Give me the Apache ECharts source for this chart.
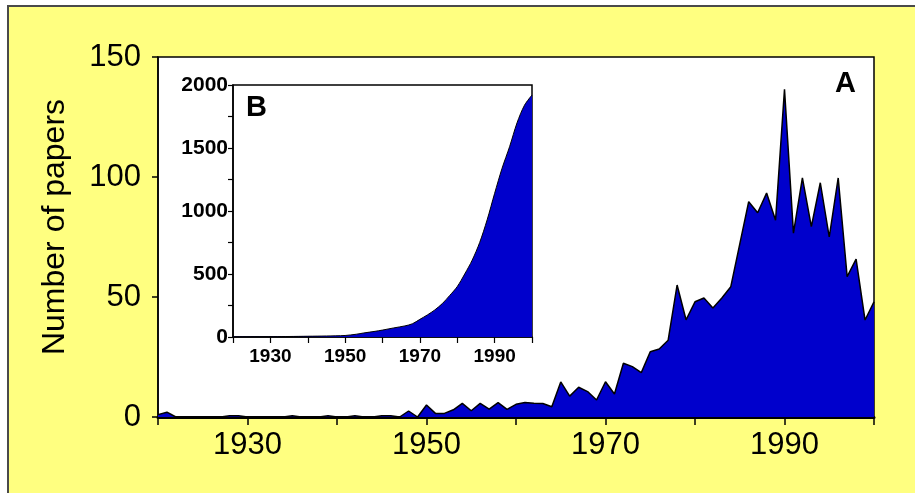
<!DOCTYPE html>
<html>
<head>
<meta charset="utf-8">
<script src="https://cdn.jsdelivr.net/npm/echarts@6/dist/echarts.min.js"></script>
<style>
html,body{margin:0;padding:0;background:#fff;}
#chart{width:915px;height:493px;}
</style>
</head>
<body>
<div id="chart"></div>
<script>
// Panel A: papers per year
const years = [1920,1921,1922,1923,1924,1925,1926,1927,1928,1929,
  1930,1931,1932,1933,1934,1935,1936,1937,1938,1939,
  1940,1941,1942,1943,1944,1945,1946,1947,1948,1949,
  1950,1951,1952,1953,1954,1955,1956,1957,1958,1959,
  1960,1961,1962,1963,1964,1965,1966,1967,1968,1969,
  1970,1971,1972,1973,1974,1975,1976,1977,1978,1979,
  1980,1981,1982,1983,1984,1985,1986,1987,1988,1989,
  1990,1991,1992,1993,1994,1995,1996,1997,1998,1999,2000];
const papers = [1,2,0,0,0,0,0,0,0.5,0.5,
  0,0,0,0,0,0.5,0,0,0,0.5,
  0,0,0.5,0,0,0.5,0.5,0,2.5,0,
  5,1.5,1.5,3,5.7,2.6,5.7,3.3,6,3.2,
  5.3,6,5.7,5.6,4.3,14.6,8.7,12.4,10.6,7.1,
  14.7,9.6,22.4,21,18.5,27.2,28.3,32,55,40.5,
  48,49.6,45.4,49.6,54.3,72,89.7,85.1,93.3,82,
  136.5,76.6,99.6,79.3,97.6,75,99.6,58.5,65.8,40.4,48];

// Panel B: cumulative number of papers
const cumYears = [1920,1935,1940,1945,1950,1953,1955,1958,1960,1963,1966,1968,1970,1972,1974,1976,1978,1980,1982,1984,1986,1988,1990,1992,1994,1996,1998,2000];
const cumPapers = [1,4,6,8,12,22,32,45,55,72,88,105,140,175,215,265,330,400,500,610,750,930,1140,1340,1510,1700,1840,1920];

const mainTicks = [0,50,100,150];
const insetTicks = [0,500,1000,1500,2000];
const labelYears = [1930,1950,1970,1990];

const FONT = 'Liberation Sans, Arial, sans-serif';
const BLUE = '#0000CC';

const chart = echarts.init(document.getElementById('chart'), null, {renderer:'canvas'});
const yearLabel = v => labelYears.indexOf(v) >= 0 ? String(v) : '';

chart.setOption({
  backgroundColor: '#ffffff',
  animation: false,
  graphic: [
    {type:'rect', z:-100, shape:{x:8, y:6, width:940, height:520},
     style:{fill:'#FFFF80', stroke:'#4a4a4a', lineWidth:2}},
    {type:'text', z:100, left:835, top:69,
     style:{text:'A', font:'bold 29px ' + FONT, fill:'#000'}},
    {type:'text', z:100, left:246, top:93,
     style:{text:'B', font:'bold 29px ' + FONT, fill:'#000'}}
  ],
  grid: [
    {left:158, top:57, width:716, height:360, show:true, backgroundColor:'#fff',
     borderColor:'#000', borderWidth:1.5, containLabel:false},
    {left:233, top:85, width:299, height:252, show:true, backgroundColor:'#fff',
     borderColor:'#000', borderWidth:1.5, containLabel:false}
  ],
  xAxis: [
    {type:'value', gridIndex:0, min:1920, max:2000, interval:10,
     axisLine:{show:true, onZero:false, lineStyle:{color:'#000', width:3}},
     axisTick:{show:true, length:8, lineStyle:{color:'#000', width:1.5}},
     axisLabel:{formatter:yearLabel, fontSize:31, color:'#000', fontFamily:FONT, margin:13},
     splitLine:{show:false}},
    {type:'value', gridIndex:1, min:1920, max:2000, interval:10,
     axisLine:{show:true, onZero:false, lineStyle:{color:'#000', width:1.5}},
     axisTick:{show:true, length:6, lineStyle:{color:'#000', width:1.2}},
     axisLabel:{formatter:yearLabel, fontSize:19, fontWeight:'bold', color:'#000', fontFamily:FONT, margin:10},
     splitLine:{show:false}},
  ],
  yAxis: [
    {type:'value', gridIndex:0, min:0, max:150, interval:50,
     name:'Number of papers', nameLocation:'middle', nameGap:87, nameRotate:90,
     nameTextStyle:{fontSize:32, color:'#000', fontFamily:FONT, padding:[0,0,0,20]},
     axisLine:{show:true, lineStyle:{color:'#000', width:1.5}},
     axisTick:{show:true, length:6, lineStyle:{color:'#000', width:1.5}},
     axisLabel:{fontSize:31, color:'#000', fontFamily:FONT, margin:17,
       formatter: v => mainTicks.indexOf(v) >= 0 ? String(v) : ''},
     splitLine:{show:false}},
    {type:'value', gridIndex:1, min:0, max:2000, interval:500,
     axisLine:{show:true, lineStyle:{color:'#000', width:1.5}},
     axisTick:{show:true, length:5, lineStyle:{color:'#000', width:1.2}},
     minorTick:{show:true, splitNumber:2, length:5, lineStyle:{color:'#000', width:1.2}},
     axisLabel:{fontSize:21, fontWeight:'bold', color:'#000', fontFamily:FONT, margin:5,
       formatter: v => insetTicks.indexOf(v) >= 0 ? String(v) : ''},
     splitLine:{show:false}}
  ],
  series: [
    {type:'line', xAxisIndex:0, yAxisIndex:0, symbol:'none', z:3,
     data: years.map((y,i) => [y, papers[i]]),
     lineStyle:{color:'#000', width:1.5},
     areaStyle:{color:BLUE, opacity:1}},
    {type:'line', xAxisIndex:1, yAxisIndex:1, symbol:'none', smooth:0.3, z:3,
     data: cumYears.map((y,i) => [y, cumPapers[i]]),
     lineStyle:{color:'#000', width:1},
     areaStyle:{color:BLUE, opacity:1}}
  ]
});
</script>
</body>
</html>
